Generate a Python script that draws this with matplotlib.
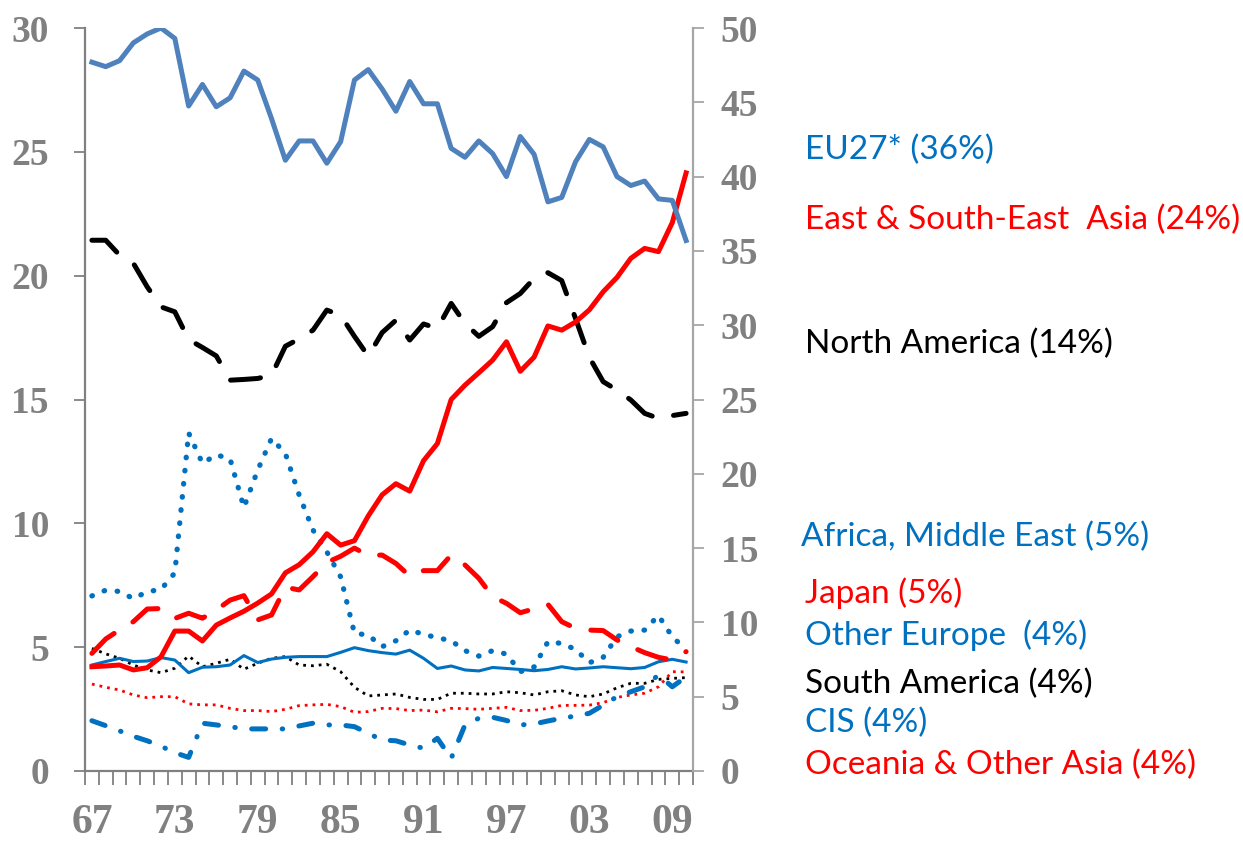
import numpy as np
import matplotlib
matplotlib.use('Agg')
import matplotlib.pyplot as plt


years = list(range(1967, 2011))
year_labels = ['67', '73', '79', '85', '91', '97', '03', '09']

# EU27 is read on the right axis, all others on the left
eu27 = [47.7, 47.4, 47.8, 49.0, 49.6, 50.0, 49.3, 44.75, 46.2, 44.7, 45.3,
        47.1, 46.5, 43.9, 41.1, 42.4, 42.4, 40.9, 42.35, 46.5, 47.2, 45.9,
        44.4, 46.4, 44.9, 44.9, 41.9, 41.3, 42.4, 41.55, 40.0, 42.7, 41.5,
        38.3, 38.6, 41.0, 42.5, 42.0, 40.0, 39.4, 39.7, 38.5, 38.4, 35.7]
east_asia = [4.21, 4.24, 4.28, 4.08, 4.17, 4.61, 5.65, 5.65, 5.25, 5.89, 6.18,
             6.45, 6.78, 7.15, 8.0, 8.33, 8.85, 9.58, 9.12, 9.3, 10.3, 11.15,
             11.6, 11.3, 12.53, 13.22, 15.0, 15.58, 16.08, 16.59, 17.33, 16.14,
             16.71, 17.97, 17.8, 18.13, 18.62, 19.35, 19.93, 20.7, 21.1, 20.97,
             22.14, 24.15]
north_america = [21.43, 21.43, 20.83, 20.5, 19.55, 18.74, 18.54, 17.42, 17.1,
                 16.76, 15.78, 15.81, 15.85, 15.98, 17.15, 17.45, 17.8, 18.61,
                 18.4, 17.55, 16.75, 17.7, 18.2, 17.4, 18.05, 17.87, 18.88,
                 18.07, 17.55, 17.94, 18.91, 19.28, 19.89, 20.12, 19.8, 18.27,
                 16.7, 15.72, 15.38, 14.98, 14.44, 14.24, 14.35, 14.44]
africa_me = [7.07, 7.3, 7.25, 6.96, 7.24, 7.33, 8.0, 13.65, 12.42, 12.77, 12.6,
             10.64, 12.15, 13.43, 12.82, 11.14, 9.73, 8.85, 7.84, 5.56, 5.49,
             5.02, 5.26, 5.69, 5.52, 5.38, 5.26, 4.86, 4.64, 4.86, 4.72, 4.01,
             4.2, 5.22, 5.15, 4.91, 4.37, 4.59, 5.42, 5.65, 5.69, 6.28, 5.42, 4.9]
japan = [4.75, 5.33, 5.7, 6.03, 6.54, 6.56, 6.16, 6.37, 6.17, 6.5, 6.9, 7.08,
         6.1, 6.3, 7.42, 7.31, 7.85, 8.42, 8.67, 9.0, 8.7, 8.72, 8.38, 7.87,
         8.09, 8.09, 8.72, 8.32, 7.78, 7.04, 6.77, 6.39, 6.55, 6.73, 6.03,
         5.76, 5.69, 5.67, 5.29, 5.02, 4.78, 4.59, 4.48, 4.82]
other_europe = [4.28, 4.42, 4.55, 4.42, 4.44, 4.58, 4.48, 3.97, 4.19, 4.21,
                4.28, 4.66, 4.38, 4.52, 4.59, 4.62, 4.62, 4.62, 4.79, 4.98,
                4.86, 4.78, 4.72, 4.88, 4.55, 4.14, 4.24, 4.08, 4.04, 4.18,
                4.14, 4.1, 4.05, 4.1, 4.21, 4.12, 4.16, 4.21, 4.17, 4.13, 4.18,
                4.41, 4.51, 4.4]
south_america = [4.95, 4.73, 4.55, 4.28, 4.08, 3.97, 4.15, 4.64, 4.21, 4.35,
                 4.51, 4.11, 4.35, 4.55, 4.62, 4.28, 4.25, 4.31, 4.01, 3.38,
                 3.03, 3.07, 3.11, 2.97, 2.89, 2.89, 3.14, 3.14, 3.11, 3.11,
                 3.2, 3.16, 3.07, 3.2, 3.24, 3.07, 3.0, 3.11, 3.36, 3.54, 3.54,
                 3.7, 3.74, 3.77]
cis = [2.03, 1.83, 1.62, 1.4, 1.22, 1.0, 0.74, 0.55, 1.93, 1.86, 1.79, 1.7,
       1.7, 1.7, 1.7, 1.82, 1.93, 1.86, 1.86, 1.79, 1.52, 1.25, 1.22, 1.05,
       0.92, 1.32, 0.51, 1.86, 2.13, 2.17, 2.04, 1.86, 1.9, 2.02, 2.13, 2.22,
       2.33, 2.66, 3.0, 3.2, 3.4, 3.88, 3.4, 3.8]
oceania = [3.51, 3.38, 3.27, 3.07, 2.96, 3.0, 3.0, 2.71, 2.67, 2.67, 2.53,
           2.44, 2.44, 2.4, 2.49, 2.64, 2.67, 2.69, 2.6, 2.37, 2.4, 2.53, 2.52,
           2.44, 2.46, 2.39, 2.53, 2.52, 2.49, 2.53, 2.57, 2.44, 2.45, 2.53,
           2.65, 2.65, 2.66, 2.76, 2.97, 3.07, 3.14, 3.4, 4.01, 4.0]

labels = ['EU27* (36%)', 'East & South-East  Asia (24%)', 'North America (14%)',
          'Africa, Middle East (5%)', 'Japan (5%)', 'Other Europe  (4%)',
          'South America (4%)', 'CIS (4%)', 'Oceania & Other Asia (4%)']

BLUE = '#0070C0'
RED = '#FF0000'
EU_BLUE = '#4F81BD'
GREY = '#808080'

x = np.arange(len(years))

fig = plt.figure(figsize=(12.43, 8.43), dpi=100)
ax = fig.add_axes([85 / 1243, 1 - 771 / 843, 608 / 1243, 743 / 843])
ax2 = ax.twinx()

ax.plot(x, oceania, color=RED, lw=2.0, linestyle=(0, (1, 1.8)))
ax.plot(x, south_america, color='black', lw=2.0, linestyle=(0, (1, 1.8)))
ax.plot(x, other_europe, color=BLUE, lw=2.2)
ax.plot(x, cis, color=BLUE, lw=3.6, linestyle=(0, (2.8, 3.3, 0.1, 3.3)),
        dash_capstyle='round')
ax.plot(x, africa_me, color=BLUE, lw=3.8, linestyle=(0, (0.1, 2.4)),
        dash_capstyle='round')
ax.plot(x, japan, color=RED, lw=3.6, linestyle=(0, (6, 4.4)),
        dash_capstyle='round', solid_joinstyle='round')
ax.plot(x, north_america, color='black', lw=3.6, linestyle=(0, (6, 4.4)),
        dash_capstyle='round')
ax.plot(x, east_asia, color=RED, lw=3.6, solid_joinstyle='round')
ax2.plot(x, eu27, color=EU_BLUE, lw=3.6, solid_joinstyle='round')

ax.set_xlim(-0.5, len(years) - 0.5)
ax.set_ylim(0, 30)
ax2.set_ylim(0, 50)

for s in ['top']:
    ax.spines[s].set_visible(False)
    ax2.spines[s].set_visible(False)
for s in ['left', 'bottom']:
    ax.spines[s].set_color(GREY)
    ax.spines[s].set_linewidth(1.6)
ax.spines['right'].set_visible(False)
ax2.spines['left'].set_visible(False)
ax2.spines['bottom'].set_visible(False)
ax2.spines['right'].set_color('#A6A6A6')
ax2.spines['right'].set_linewidth(1.6)

ax.set_xticks(np.arange(-0.5, len(years), 1))
ax.set_xticklabels([])
ax.tick_params(axis='x', which='major', length=10, width=1.3, color=GREY)
ax.set_xticks(x[::6], year_labels, minor=True)
ax.tick_params(axis='x', which='minor', length=0, pad=24, labelcolor=GREY,
               labelsize=30)
for t in ax.get_xticklabels(minor=True):
    t.set_family('Liberation Serif')
    t.set_weight('bold')

ax.set_yticks(np.arange(0, 31, 5))
ax.tick_params(axis='y', length=8, width=1.3, color=GREY, pad=18,
               labelcolor=GREY, labelsize=27)
ax2.set_yticks(np.arange(0, 51, 5))
ax2.tick_params(axis='y', length=8, width=1.3, color='#A6A6A6', pad=12,
                labelcolor=GREY, labelsize=27)
for t in ax.get_yticklabels() + ax2.get_yticklabels():
    t.set_family('Liberation Serif')
    t.set_weight('bold')

label_colors = [BLUE, RED, 'black', BLUE, RED, BLUE, 'black', BLUE, RED]
label_y = [150, 220, 344, 537, 593, 635, 684, 723, 765]
label_x = [805, 805, 805, 801, 805, 805, 805, 805, 805]
for name, c, lx, ly in zip(labels, label_colors, label_x, label_y):
    fig.text(lx / 1243, 1 - ly / 843, name, color=c, fontsize=24,
             family='Lato', va='center', ha='left')

fig.savefig('out.png', dpi=100)
